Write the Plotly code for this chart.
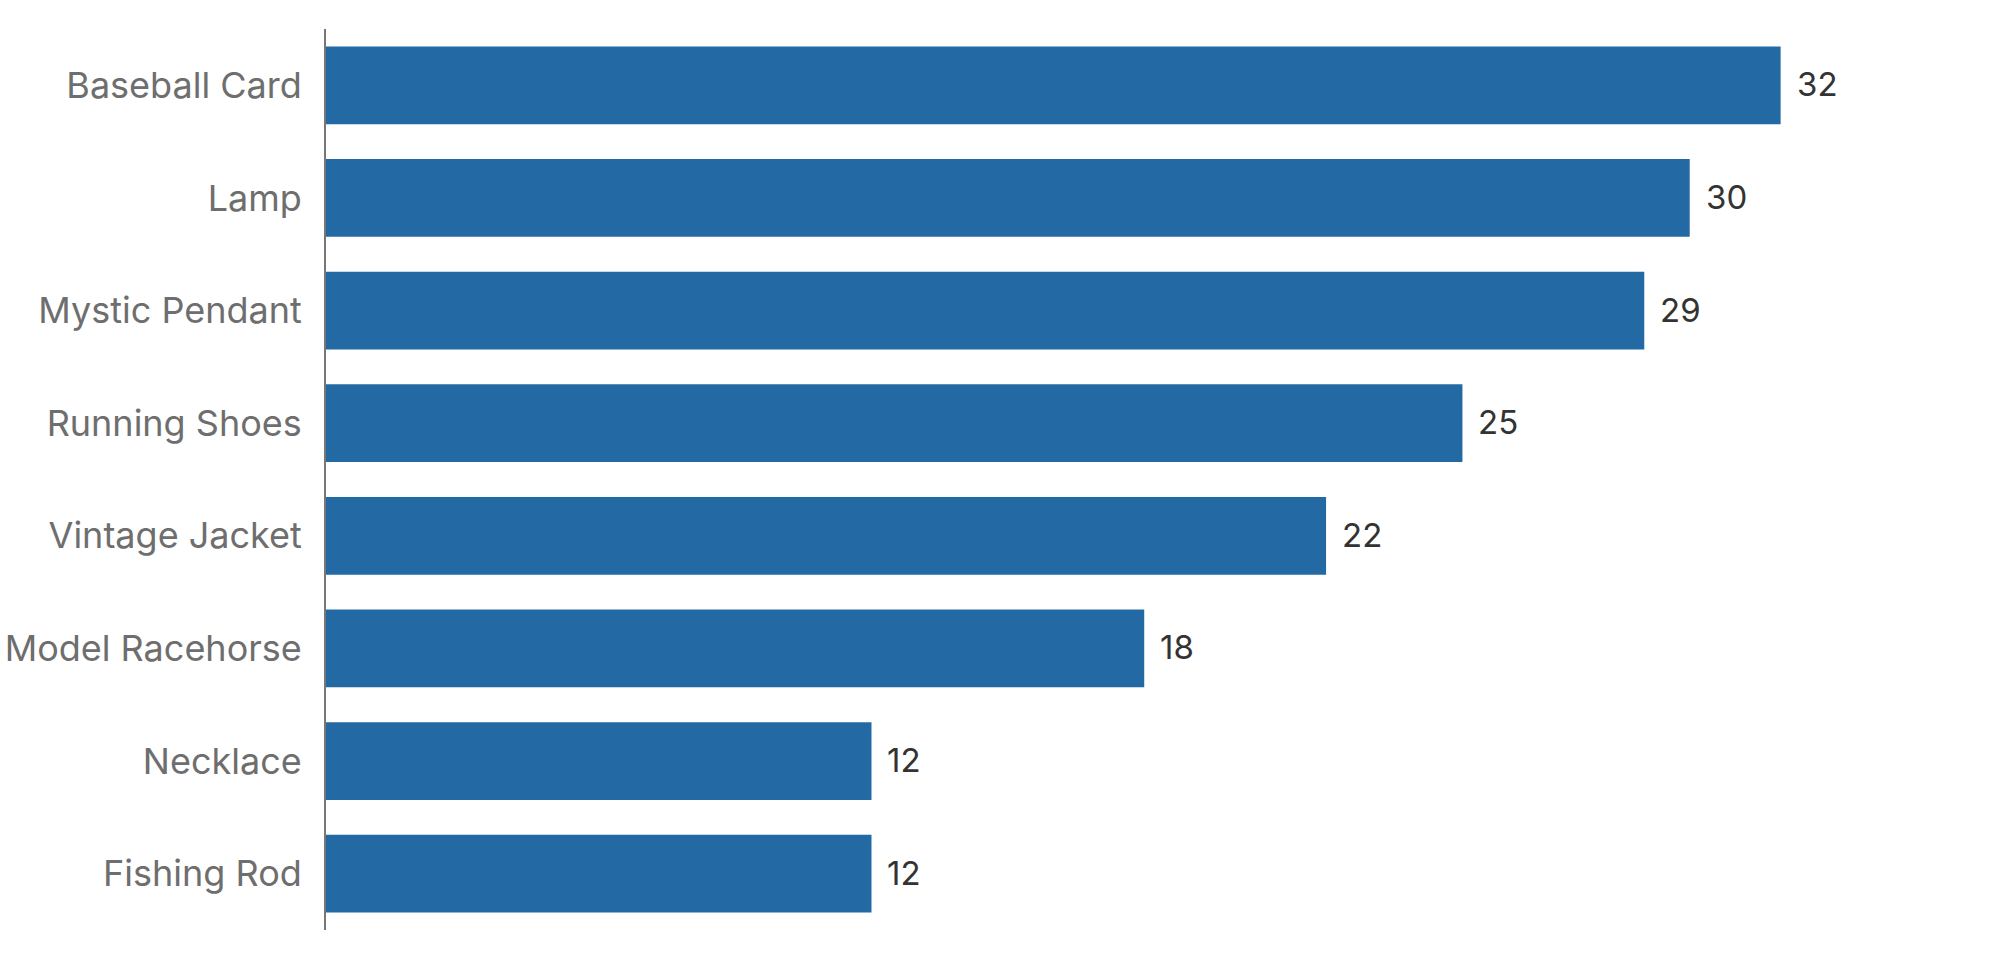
import plotly.graph_objects as go

categories = ["Baseball Card", "Lamp", "Mystic Pendant", "Running Shoes",
              "Vintage Jacket", "Model Racehorse", "Necklace", "Fishing Rod"]
values = [32, 30, 29, 25, 22, 18, 12, 12]

BAR = "#236aa4"
FONT = "Inter, Roboto, 'Noto Sans', sans-serif"

fig = go.Figure(go.Bar(
    x=values, y=categories, orientation="h",
    marker=dict(color=BAR, line=dict(width=0)),
    width=0.69,
    hoverinfo="skip",
))

for c, v in zip(categories, values):
    fig.add_annotation(x=v, y=c, text=str(v), showarrow=False,
                       xanchor="left", yanchor="middle", xshift=14, yshift=1,
                       font=dict(family=FONT, size=33, color="#333333"))

fig.update_layout(
    width=1998, height=960,
    margin=dict(l=326, r=81, t=29, b=30, autoexpand=False),
    paper_bgcolor="white", plot_bgcolor="white",
    showlegend=False,
    font=dict(family=FONT),
)
fig.update_xaxes(range=[0, 35], visible=False, showgrid=False, zeroline=False,
                 automargin=False)
fig.update_yaxes(
    categoryorder="array", categoryarray=categories[::-1],
    range=[-0.5, 7.5], automargin=False,
    showline=True, linecolor="#777777", linewidth=2,
    showgrid=False, zeroline=False,
    ticks="outside", ticklen=15, tickcolor="rgba(0,0,0,0)",
    tickfont=dict(family=FONT, size=36, color="#6e6e6e"),
)

fig.write_html("out.html")
